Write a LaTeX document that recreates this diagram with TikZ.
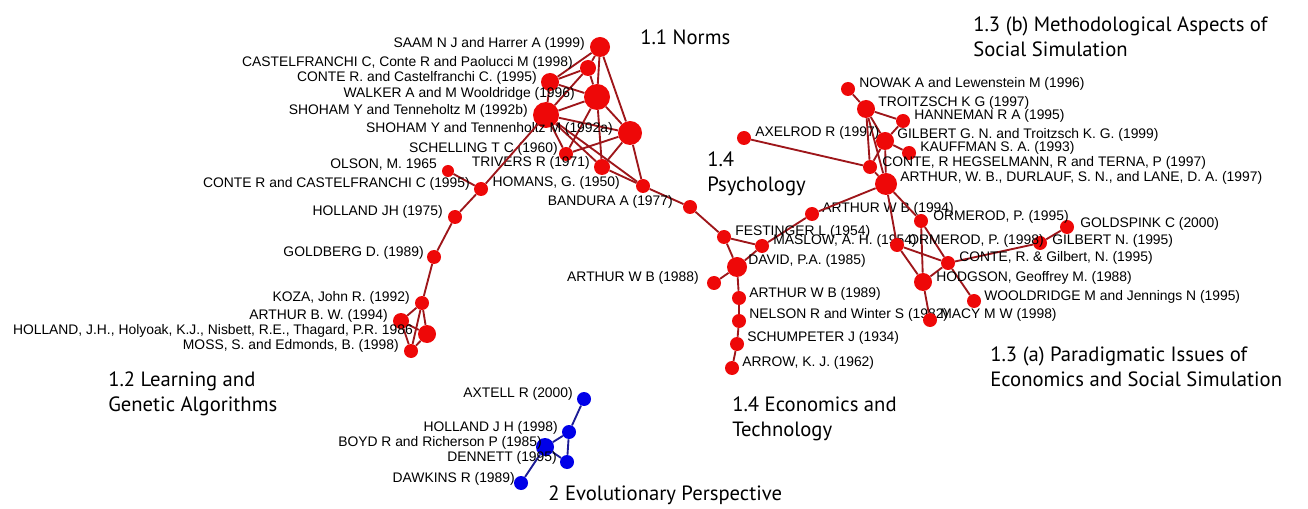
\documentclass[tikz,border=0pt]{standalone}
\usepackage{fontspec}
\setmainfont{Liberation Sans}
\newfontfamily\ttlfont{PT Sans}
\usepackage{tikz}

\definecolor{nred}{RGB}{238,8,8}
\definecolor{ered}{RGB}{158,22,26}
\definecolor{nblue}{RGB}{0,0,232}
\definecolor{eblue}{RGB}{28,28,150}

\tikzset{
  rn/.style={circle, fill=nred, inner sep=0pt, minimum size=#1},
  rn/.default=10.5pt,
  bn/.style={circle, fill=nblue, inner sep=0pt, minimum size=#1},
  bn/.default=10.5pt,
  re/.style={draw=ered, line width=1.4pt},
  be/.style={draw=eblue, line width=1.4pt},
  lab/.style={font=\fontsize{10.4}{12}\selectfont, inner sep=0pt},
  ttl/.style={font=\ttlfont\fontsize{15.5}{18.4}\selectfont, align=left, anchor=north west, inner sep=0pt}
}

\begin{document}
\begin{tikzpicture}[x=0.75pt, y=-0.75pt]
\useasboundingbox (0,0) rectangle (1308,509);

% 1.1 Norms
\node (saam) at (600,47) [rn=15pt] {};
\node (castp) at (588,68) [rn=12pt] {} edge[re] (saam);
\node (conteA) at (550,82) [rn=13.5pt] {} edge[re] (saam) edge[re] (castp);
\node (walker) at (597,97) [rn=19.5pt] {} edge[re] (saam) edge[re] (castp) edge[re] (conteA);
\node (shohamB) at (546,115) [rn=19.5pt] {} edge[re] (castp) edge[re] (conteA) edge[re] (walker);
\node (shohamA) at (630,133) [rn=18pt] {} edge[re] (saam) edge[re] (walker) edge[re] (shohamB);
\node (schelling) at (566,154) [rn] {} edge[re] (walker) edge[re] (shohamB) edge[re] (shohamA);
\node (trivers) at (602,167) [rn=12pt] {} edge[re] (walker) edge[re] (shohamB) edge[re] (shohamA);
\node (homans) at (643,186) [rn] {} edge[re] (shohamB) edge[re] (shohamA) edge[re] (trivers);

\node[lab, anchor=east] (saamL) at (585,44) {SAAM N J and Harrer A (1999)};
\node[lab, anchor=east] (castpL) at (573,63) {CASTELFRANCHI C, Conte R and Paolucci M (1998)};
\node[lab, anchor=east] (conteAL) at (537,78) {CONTE R. and Castelfranchi C. (1995)};
\node[lab, anchor=east] (walkerL) at (575,94) {WALKER A and M Wooldridge (1996)};
\node[lab, anchor=east] (shohamBL) at (528,111) {SHOHAM Y and Tenneholtz M (1992b)};
\node[lab, anchor=east] (shohamAL) at (613,129) {SHOHAM Y and Tennenholtz M (1992a)};
\node[lab, anchor=east] (schellingL) at (558,149) {SCHELLING T C (1960)};
\node[lab, anchor=east] (triversL) at (590,163) {TRIVERS R (1971)};
\node[lab, anchor=east] (homansL) at (620,183) {HOMANS, G. (1950)};

% 1.2 Learning and Genetic Algorithms
\node (olson) at (448,171) [rn=9pt] {};
\node (conteB) at (481,189) [rn] {} edge[re] (olson) edge[re] (shohamB);
\node (hollandA) at (455,217) [rn] {} edge[re] (conteB);
\node (goldberg) at (434,257) [rn] {} edge[re] (hollandA);
\node (koza) at (422,303) [rn] {} edge[re] (goldberg);
\node (arthurBW) at (401,321) [rn=12pt] {} edge[re] (koza);
\node (hollandB) at (427,334) [rn=13.5pt] {} edge[re] (koza) edge[re] (arthurBW);
\node (moss) at (411,351) [rn] {} edge[re] (koza) edge[re] (arthurBW) edge[re] (hollandB);

\node[lab, anchor=east] (olsonL) at (437,165) {OLSON, M. 1965};
\node[lab, anchor=east] (conteBL) at (470,184) {CONTE R and CASTELFRANCHI C (1995)};
\node[lab, anchor=east] (hollandAL) at (443,212) {HOLLAND JH (1975)};
\node[lab, anchor=east] (goldbergL) at (424,253) {GOLDBERG D. (1989)};
\node[lab, anchor=east] (kozaL) at (410,298) {KOZA, John R. (1992)};
\node[lab, anchor=east] (arthurBWL) at (388,316) {ARTHUR B. W. (1994)};
\node[lab, anchor=east] (hollandBL) at (413,331) {HOLLAND, J.H., Holyoak, K.J., Nisbett, R.E., Thagard, P.R. 1986};
\node[lab, anchor=east] (mossL) at (399,346) {MOSS, S. and Edmonds, B. (1998)};

% 1.4 Psychology / Economics and Technology
\node (bandura) at (690,207) [rn] {} edge[re] (homans);
\node (festinger) at (724,237) [rn] {} edge[re] (bandura);
\node (maslow) at (762,246) [rn] {} edge[re] (festinger);
\node (david) at (737,267) [rn=15pt] {} edge[re] (festinger) edge[re] (maslow);
\node (arthurE) at (714,283) [rn] {} edge[re] (david);
\node (arthurF) at (739,298) [rn] {} edge[re] (david);
\node (nelson) at (739,321) [rn] {} edge[re] (arthurF);
\node (schumpeter) at (737,344) [rn] {} edge[re] (nelson);
\node (arrow) at (732,368) [rn] {} edge[re] (schumpeter);
\node (arthurG) at (812,214) [rn] {} edge[re] (maslow);

\node[lab, anchor=east] (banduraL) at (673,202) {BANDURA A (1977)};
\node[lab, anchor=west] (festingerL) at (735,232) {FESTINGER L (1954)};
\node[lab, anchor=west] (maslowL) at (773,241) {MASLOW, A. H. (1954)};
\node[lab, anchor=west] (davidL) at (748,261) {DAVID, P.A. (1985)};
\node[lab, anchor=east] (arthurEL) at (699,278) {ARTHUR W B (1988)};
\node[lab, anchor=west] (arthurFL) at (749,294) {ARTHUR W B (1989)};
\node[lab, anchor=west] (nelsonL) at (749,315) {NELSON R and Winter S (1982)};
\node[lab, anchor=west] (schumpeterL) at (747,338) {SCHUMPETER J (1934)};
\node[lab, anchor=west] (arrowL) at (742,363) {ARROW, K. J. (1962)};
\node[lab, anchor=west] (arthurGL) at (822,209) {ARTHUR W B (1994)};

% 1.3 (b) Methodological Aspects
\node (nowak) at (848,89) [rn] {};
\node (troitzsch) at (866,109) [rn=13.5pt] {} edge[re] (nowak);
\node (hanneman) at (903,121) [rn] {} edge[re] (troitzsch);
\node (axelrod) at (744,138) [rn] {};
\node (gilbertGN) at (885,141) [rn=13.5pt] {} edge[re] (troitzsch) edge[re] (hanneman);
\node (kauffman) at (909,153) [rn] {} edge[re] (gilbertGN);
\node (conteH) at (870,167) [rn] {} edge[re] (troitzsch) edge[re] (gilbertGN) edge[re] (axelrod);
\node (arthurD) at (886,184) [rn=16.5pt] {} edge[re] (troitzsch) edge[re] (gilbertGN) edge[re] (conteH) edge[re] (arthurG);

\node[lab, anchor=west] (nowakL) at (859,84) {NOWAK A and Lewenstein M (1996)};
\node[lab, anchor=west] (troitzschL) at (878,103) {TROITZSCH K G (1997)};
\node[lab, anchor=west] (hannemanL) at (914,116) {HANNEMAN R A (1995)};
\node[lab, anchor=west] (axelrodL) at (755,133) {AXELROD R (1997)};
\node[lab, anchor=west] (gilbertGNL) at (897,135) {GILBERT G. N. and Troitzsch K. G. (1999)};
\node[lab, anchor=west] (kauffmanL) at (920,148) {KAUFFMAN S. A. (1993)};
\node[lab, anchor=west] (conteHL) at (882,163) {CONTE, R HEGSELMANN, R and TERNA, P (1997)};
\node[lab, anchor=west] (arthurDL) at (900,178) {ARTHUR, W. B., DURLAUF, S. N., and LANE, D. A. (1997)};

% 1.3 (a) Paradigmatic Issues
\node (ormerodA) at (921,221) [rn] {} edge[re] (arthurD);
\node (ormerodB) at (897,245) [rn] {} edge[re] (arthurD);
\node (conteG) at (948,263) [rn] {} edge[re] (ormerodA) edge[re] (ormerodB);
\node (hodgson) at (923,282) [rn=13.5pt] {} edge[re] (ormerodA) edge[re] (ormerodB) edge[re] (conteG);
\node (wooldridge) at (974,301) [rn] {} edge[re] (conteG);
\node (macy) at (930,320) [rn] {} edge[re] (hodgson);
\node (gilbertN) at (1040,243) [rn] {} edge[re] (conteG);
\node (goldspink) at (1067,227) [rn] {} edge[re] (gilbertN);

\node[lab, anchor=west] (ormerodAL) at (933,217) {ORMEROD, P. (1995)};
\node[lab, anchor=west] (ormerodBL) at (908,241) {ORMEROD, P. (1998)};
\node[lab, anchor=west] (conteGL) at (959,258) {CONTE, R. \& Gilbert, N. (1995)};
\node[lab, anchor=west] (hodgsonL) at (936,278) {HODGSON, Geoffrey M. (1988)};
\node[lab, anchor=west] (wooldridgeL) at (984,297) {WOOLDRIDGE M and Jennings N (1995)};
\node[lab, anchor=west] (macyL) at (940,315) {MACY M W (1998)};
\node[lab, anchor=west] (gilbertNL) at (1052,241) {GILBERT N. (1995)};
\node[lab, anchor=west] (goldspinkL) at (1080,224) {GOLDSPINK C (2000)};

% 2 Evolutionary Perspective
\node (axtell) at (584,399) [bn] {};
\node (hollandC) at (569,432) [bn] {} edge[be] (axtell);
\node (boyd) at (545,447) [bn=13.5pt] {} edge[be] (hollandC);
\node (dennett) at (567,462) [bn] {} edge[be] (hollandC) edge[be] (boyd);
\node (dawkins) at (521,483) [bn] {} edge[be] (boyd);

\node[lab, anchor=east] (axtellL) at (573,394) {AXTELL R (2000)};
\node[lab, anchor=east] (hollandCL) at (558,428) {HOLLAND J H (1998)};
\node[lab, anchor=east] (boydL) at (542,443) {BOYD R and Richerson P (1985)};
\node[lab, anchor=east] (dennettL) at (557,458) {DENNETT (1995)};
\node[lab, anchor=east] (dawkinsL) at (515,479) {DAWKINS R (1989)};

% cluster titles
\node[ttl] (tNorms) at (640,30) {1.1 Norms};
\node[ttl] (tMeth) at (973,17) {1.3 (b) Methodological Aspects of\\Social Simulation};
\node[ttl] (tPsy) at (707,152) {1.4\\Psychology};
\node[ttl] (tLearn) at (108,372) {1.2 Learning and\\Genetic Algorithms};
\node[ttl] (tEcon) at (732,397) {1.4 Economics and\\Technology};
\node[ttl] (tPara) at (990,347) {1.3 (a) Paradigmatic Issues of\\Economics and Social Simulation};
\node[ttl] (tEvol) at (548,486) {2 Evolutionary Perspective};
\end{tikzpicture}
\end{document}
